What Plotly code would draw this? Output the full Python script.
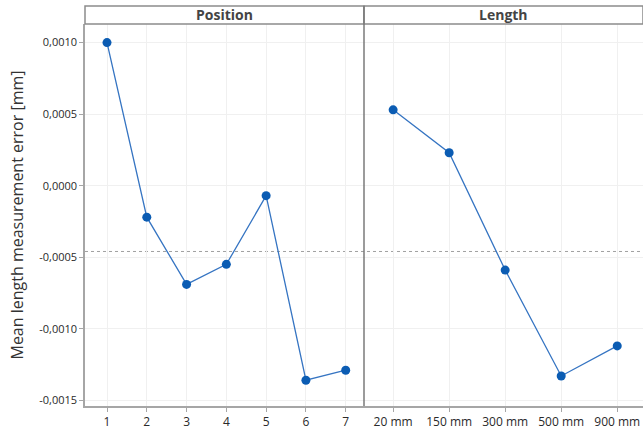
import plotly.graph_objects as go
from plotly.subplots import make_subplots

positions = [1, 2, 3, 4, 5, 6, 7]
position_means = [0.00100, -0.00022, -0.00069, -0.00055, -0.00007, -0.00136, -0.00129]
lengths = ["20 mm", "150 mm", "300 mm", "500 mm", "900 mm"]
length_means = [0.00053, 0.00023, -0.00059, -0.00133, -0.00112]
overall_mean = -0.00046
panel_titles = ["Position", "Length"]
y_tickvals = [0.0010, 0.0005, 0.0, -0.0005, -0.0010, -0.0015]
y_ticktext = ["0,0010", "0,0005", "0,0000", "-0,0005", "-0,0010", "-0,0015"]

FONT = "Open Sans"
LINE_C = "#3574c2"
MARK_C = "#0b5cb3"
GRID_C = "#f0f0f0"
AXIS_C = "#a6a6a6"
TEXT_C = "#2a2a2a"

fig = make_subplots(rows=1, cols=2, shared_yaxes=True, horizontal_spacing=0)

fig.add_trace(go.Scatter(x=positions, y=position_means, mode="lines+markers",
                         line=dict(color=LINE_C, width=1.3),
                         marker=dict(color=MARK_C, size=9),
                         showlegend=False, cliponaxis=False), row=1, col=1)
fig.add_trace(go.Scatter(x=lengths, y=length_means, mode="lines+markers",
                         line=dict(color=LINE_C, width=1.3),
                         marker=dict(color=MARK_C, size=9),
                         showlegend=False, cliponaxis=False), row=1, col=2)

ytop = 382 / 400
common_x = dict(showgrid=True, gridcolor=GRID_C, gridwidth=1, zeroline=False,
                ticks="outside", ticklen=4, tickcolor=AXIS_C,
                tickfont=dict(family=FONT, size=12, color=TEXT_C),
                showline=True, linecolor=AXIS_C, linewidth=1.5)
fig.update_xaxes(common_x, row=1, col=1)
fig.update_xaxes(common_x, row=1, col=2)
fig.update_layout(
    xaxis=dict(domain=[0, 0.5], range=[0.447, 7.46], tickvals=positions,
               ticktext=[str(p) for p in positions]),
    xaxis2=dict(domain=[0.5, 1.0], type="category", range=[-0.52, 4.46]),
    yaxis=dict(domain=[0, ytop], range=[-0.00154, 0.00113], tickvals=y_tickvals,
               ticktext=y_ticktext, showgrid=True, gridcolor=GRID_C, zeroline=False,
               ticks="outside", ticklen=4, tickcolor=AXIS_C,
               tickfont=dict(family=FONT, size=11, color=TEXT_C),
               showline=True, linecolor=AXIS_C, linewidth=1.5,
               title=dict(text="Mean length measurement error [mm]",
                          font=dict(family=FONT, size=16, color="#333333"), standoff=12)),
    yaxis2=dict(domain=[0, ytop], showgrid=True, gridcolor=GRID_C, zeroline=False,
                showticklabels=False),
    width=643, height=432,
    margin=dict(l=85, r=0, t=6, b=26),
    plot_bgcolor="white", paper_bgcolor="white",
)

shapes = []
for x0, x1 in [(0, 0.5), (0.5, 1.0)]:
    shapes.append(dict(type="rect", xref="paper", yref="paper", x0=x0, x1=x1,
                       y0=ytop, y1=1.0, line=dict(color="#8c8c8c", width=1.5),
                       fillcolor="white", layer="above"))
shapes.append(dict(type="line", xref="paper", yref="paper", x0=0.5, x1=0.5,
                   y0=0, y1=1.0, line=dict(color="#7a7a7a", width=1.5), layer="above"))
shapes.append(dict(type="line", xref="paper", yref="y", x0=0, x1=1,
                   y0=overall_mean, y1=overall_mean,
                   line=dict(color="#a0a0a0", width=1, dash="dot"), layer="below"))
fig.update_layout(shapes=shapes)

for title, xc in zip(panel_titles, [0.25, 0.75]):
    fig.add_annotation(text="<b>" + title + "</b>", xref="paper", yref="paper",
                       x=xc, y=(ytop + 1.0) / 2, showarrow=False,
                       xanchor="center", yanchor="middle",
                       font=dict(family=FONT, size=14, color="#444444"))

fig.write_html("out.html", config={"displayModeBar": False},
               post_script="document.body.style.margin='0';")
